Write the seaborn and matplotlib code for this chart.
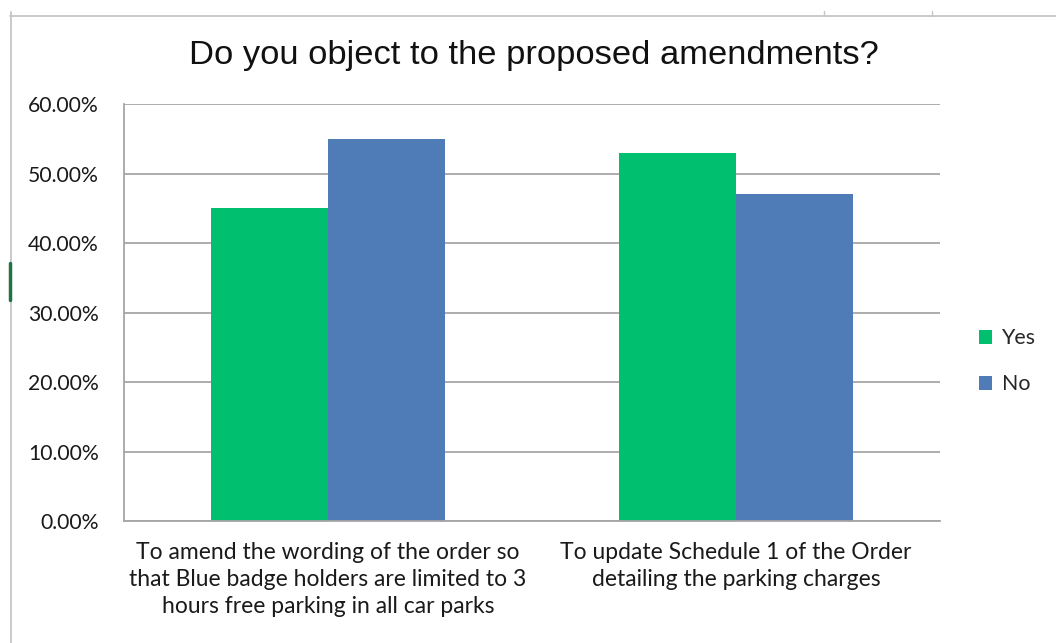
import seaborn as sns
import matplotlib.pyplot as plt
import pandas as pd
from matplotlib.lines import Line2D
from matplotlib.ticker import PercentFormatter

# Data
categories = [
    "To amend the wording of the order so\nthat Blue badge holders are limited to 3\nhours free parking in all car parks",
    "To update Schedule 1 of the Order\ndetailing the parking charges",
]
responses = ["Yes", "No"]
yes_values = [45.0, 53.0]
no_values = [55.0, 47.0]
y_ticks = [0, 10, 20, 30, 40, 50, 60]

df = pd.DataFrame({
    "Amendment": categories * 2,
    "Response": ["Yes"] * len(categories) + ["No"] * len(categories),
    "Percent": yes_values + no_values,
})

sns.set_style("white")
plt.rcParams["font.family"] = ["Lato", "DejaVu Sans"]

fig = plt.figure(figsize=(10.56, 6.43), dpi=100)
ax = fig.add_axes([0.1174, 0.1897, 0.7727, 0.6485])

palette = {"Yes": "#00BF6F", "No": "#4F7CB6"}
sns.barplot(data=df, x="Amendment", y="Percent", hue="Response",
            hue_order=responses, palette=palette, width=0.574,
            saturation=1, linewidth=0, ax=ax)

ax.set_xlim(-0.5, 1.5)
ax.set_ylim(0, 60)
ax.set_yticks(y_ticks)
ax.yaxis.set_major_formatter(PercentFormatter(decimals=2))
ax.set_xlabel("")
ax.set_ylabel("")

grid_col = "#A6A6A6"
ax.grid(axis="y", color=grid_col, linewidth=1.3)
ax.set_axisbelow(True)
for side in ["top", "right"]:
    ax.spines[side].set_visible(False)
for side in ["left", "bottom"]:
    ax.spines[side].set_color(grid_col)
    ax.spines[side].set_linewidth(1.3)

ax.tick_params(axis="y", length=6, width=1.3, color=grid_col,
               labelsize=15.2, labelcolor="#1a1a1a", pad=12)
ax.tick_params(axis="x", which="major", length=0, labelsize=16.5,
               labelcolor="#1a1a1a", pad=15)
ax.set_xticks([-0.5, 0.5, 1.5], minor=True)
ax.tick_params(axis="x", which="minor", length=7, width=1.3, color=grid_col)
for lbl in ax.get_xticklabels():
    lbl.set_linespacing(1.36)

fig.text(0.506, 0.914, "Do you object to the proposed amendments?",
         ha="center", va="center", fontsize=24.8, color="#111111",
         family=["Liberation Sans", "DejaVu Sans"])

ax.legend(title=None, frameon=False, loc="center left",
          bbox_to_anchor=(0.909, 0.438), bbox_transform=fig.transFigure,
          handlelength=0.6, handleheight=0.6, handletextpad=0.45,
          labelspacing=1.22, fontsize=15.4)

# spreadsheet frame around the screenshot
frame = "#C6C6C6"
fig.add_artist(Line2D([10 / 1056, 1], [1 - 16 / 643] * 2, color=frame, lw=1.3))
fig.add_artist(Line2D([11 / 1056] * 2, [0, 1 - 12 / 643], color=frame, lw=1.3))
for xp in [824, 932]:
    fig.add_artist(Line2D([xp / 1056] * 2, [1 - 16 / 643, 1 - 11 / 643],
                          color=frame, lw=1))
fig.add_artist(Line2D([10 / 1056] * 2, [1 - 263 / 643, 1 - 300 / 643],
                      color="#217346", lw=2.5))

fig.savefig("out.png", dpi=100)
